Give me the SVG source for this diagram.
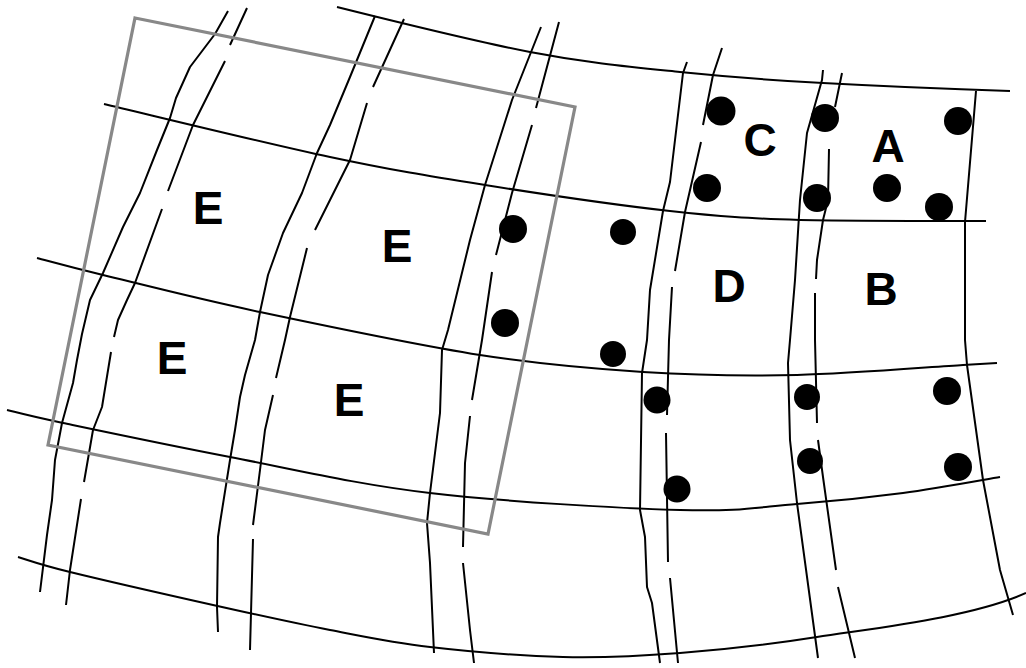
<svg xmlns="http://www.w3.org/2000/svg" width="1026" height="668" viewBox="0 0 1026 668">
<style>
.ln{fill:none;stroke:#000;stroke-width:2;stroke-linejoin:round;stroke-linecap:butt}
.frame{fill:none;stroke:#888;stroke-width:3.2}
.dot{fill:#000}
.lbl{font-family:"Liberation Sans",Arial,Helvetica,sans-serif;font-weight:bold;font-size:46px;fill:#000;text-anchor:middle}
</style>
<rect width="1026" height="668" fill="#fff"/>
<g id="connectors">
<g id="horizontals">
<path class="ln" d="M337,7 C369,15 473,41 530,52 C587,63 631,67 680,72 C729,77 768,80 823,83 C878,86 979,90 1010,91"/>
<path class="ln" d="M104,104 C141.7,112.8 266.5,143.5 330,157 C393.5,170.5 428.3,176 485,185 C541.7,194 617.5,205.2 670,211 C722.5,216.8 747.3,218.3 800,220 C852.7,221 955,221 986,221"/>
<path class="ln" d="M37,258 C48,260.8 65.8,266 103,275 C140.2,284 197.2,298.7 260,312 C322.8,325.3 416.2,345 480,355 C543.8,365 590.2,368.7 643,372 C695.8,375.3 743.7,376.2 797,375 C850.3,373.8 929.7,367 963,365 L997,363"/>
<path class="ln" d="M7,410 C16.3,412.2 25.8,415.2 63,423 C100.2,430.8 168.8,445.3 230,457 C291.2,468.7 355,484.2 430,493 C505,501.8 618.8,508.2 680,510 C741.2,511.8 759.8,506.8 797,504 C834.2,501.2 869.2,497.5 903,493 C936.8,488.5 983.8,479.7 1000,477"/>
<path class="ln" d="M18,557 C26.7,559.5 37.5,564 70,572 C102.5,580 169.7,595.3 213,605 C256.3,614.7 293.8,623 330,630 C366.2,637 391.2,642.5 430,647 C468.8,651.5 521.3,656 563,657 C604.7,658 637.7,656.3 680,653 C722.3,649.7 761.5,645.8 817,637 C872.5,628.2 970,618 1026,593"/>
</g>
<g id="verticals">
<path class="ln" d="M228,11 L215,34 L190,67 L176,98 L170,118 L157,150 L140,193 L123,227 L103,273 L90,300 L82,334 L77,360 L73,383 L62,423 L55,460 L52,500 L47,535 L40,592"/>
<path class="ln" d="M247,8 L230,45 M225,61 L193,125 L168,191 M162,209 L135,283 L127,300 L118,320 L114,337 M111,352 L102,407 L93,430 L84,482 M81,499 L70,570 L66,605"/>
<path class="ln" d="M375,16 L350,77 L330,125 L317,153 L302,193 L283,233 L268,275 L260,312 L255,340 L245,375 L240,397 L235,430 L230,460 L220,523 L218,537 L217,607 L218,632"/>
<path class="ln" d="M404,19 L373,87 M367,103 L350,160 L330,200 L315,230 M307,248 L290,317 L285,340 L276,378 M273,395 L265,430 L260,470 L253,525 M253,539 L250,650"/>
<path class="ln" d="M541,27 L512,100 L485,185 L470,240 L448,330 L442,350 L440,413 L430,493 L427,523 L430,563 L434,653"/>
<path class="ln" d="M559,22 L536,108 M532,125 L512,193 L496,255 M492,272 L482,340 L472,400 M470,416 L465,463 L463,547 M463,563 L470,630 L474,663"/>
<path class="ln" d="M687,62 L683,73 L675,140 L670,182 L663,211 L650,290 L647,340 L642,373 L640,510 L645,537 L647,587 L652,603 L660,663"/>
<path class="ln" d="M722,48 L713,75 L703,125 M701,142 L685,212 L675,271 M672,287 L669,340 L667,415 M666,433 L668,562 M670,578 L678,663"/>
<path class="ln" d="M823,70 L822,80 L807,133 L800,200 L795,280 L790,340 L788,363 L790,440 L797,503 L818,658"/>
<path class="ln" d="M842,73 L835,107 M829,149 L828,200 L823,220 L817,260 L816,279 M815,293 L815,340 L817,423 M818,440 L823,477 L836,570 M838,587 L855,658"/>
<path class="ln" d="M976,91 L965,222 L965,340 L967,365 L983,480 L1000,570 L1013,615"/>
</g>
</g>
<polygon id="frame" class="frame" points="135,18 575,107 488,534 48,445"/>
<g id="dots">
<circle class="dot" cx="721" cy="111" r="14.5"/>
<circle class="dot" cx="825" cy="118" r="14"/>
<circle class="dot" cx="958" cy="121" r="14"/>
<circle class="dot" cx="707" cy="188" r="14"/>
<circle class="dot" cx="817" cy="198" r="14"/>
<circle class="dot" cx="887" cy="188" r="14"/>
<circle class="dot" cx="939" cy="207" r="14"/>
<circle class="dot" cx="513" cy="229" r="14"/>
<circle class="dot" cx="623" cy="232" r="13"/>
<circle class="dot" cx="505" cy="323" r="14"/>
<circle class="dot" cx="613" cy="354" r="13"/>
<circle class="dot" cx="657" cy="400" r="13.5"/>
<circle class="dot" cx="807" cy="397" r="13"/>
<circle class="dot" cx="810" cy="461" r="13"/>
<circle class="dot" cx="947" cy="391" r="14"/>
<circle class="dot" cx="958" cy="467" r="14"/>
<circle class="dot" cx="677" cy="489" r="13.5"/>
</g>
<g id="labels">
<text id="E1" class="lbl" x="208" y="224">E</text>
<text id="E2" class="lbl" x="397" y="262">E</text>
<text id="E3" class="lbl" x="172" y="374">E</text>
<text id="E4" class="lbl" x="349" y="416">E</text>
<text id="C" class="lbl" x="760" y="156">C</text>
<text id="A" class="lbl" x="888" y="162">A</text>
<text id="D" class="lbl" x="729" y="302">D</text>
<text id="B" class="lbl" x="881" y="305">B</text>
</g>
</svg>
